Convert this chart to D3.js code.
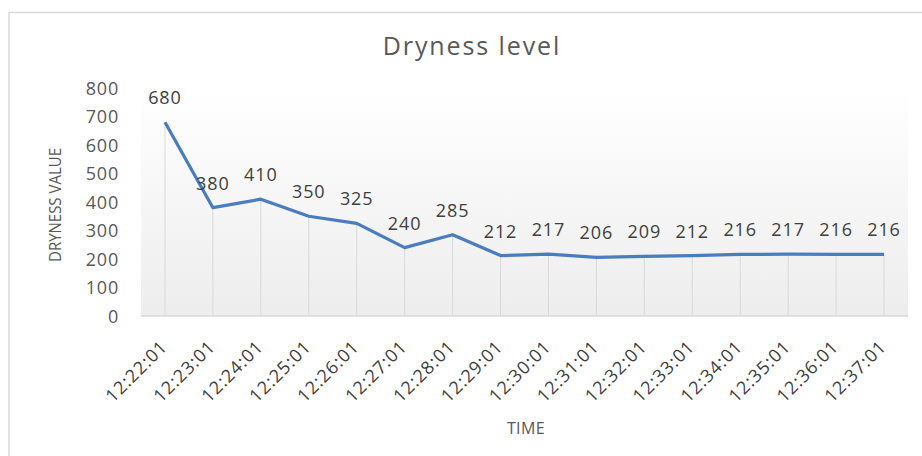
<!DOCTYPE html>
<html><head><meta charset="utf-8">
<script src="https://cdn.jsdelivr.net/npm/d3@7"></script>
<style>body{margin:0;background:#fff}svg{display:block}</style>
</head><body>
<svg id="c" width="922" height="456"></svg>
<script>
const categories = ["12:22:01","12:23:01","12:24:01","12:25:01","12:26:01","12:27:01","12:28:01","12:29:01","12:30:01","12:31:01","12:32:01","12:33:01","12:34:01","12:35:01","12:36:01","12:37:01"];
const values = [680,380,410,350,325,240,285,212,217,206,209,212,216,217,216,216];
const yTicks = [0,100,200,300,400,500,600,700,800];
const title = "Dryness level";
const xTitle = "TIME";
const yTitle = "DRYNESS VALUE";

const svg = d3.select("#c");
const font = "'Open Sans', sans-serif";
const L = 141, R = 908, T = 88, B = 316;

// outer border
svg.append("rect").attr("x",9).attr("y",12.5).attr("width",918).attr("height",460)
  .attr("fill","#fff").attr("stroke","#d9d9d9").attr("stroke-width",1.5);

const defs = svg.append("defs");
const g = defs.append("linearGradient").attr("id","bg").attr("x1",0).attr("y1",0).attr("x2",0).attr("y2",1);
g.append("stop").attr("offset","0%").attr("stop-color","#ffffff");
g.append("stop").attr("offset","100%").attr("stop-color","#ededed");

svg.append("rect").attr("x",L).attr("y",T).attr("width",R-L).attr("height",B-T).attr("fill","url(#bg)");

const x = d3.scalePoint().domain(categories).range([L,R]).padding(0.5);
const y = d3.scaleLinear().domain([0,800]).range([B,T]);

// drop lines
svg.append("g").selectAll("line").data(values).join("line")
  .attr("x1",(d,i)=>x(categories[i])).attr("x2",(d,i)=>x(categories[i]))
  .attr("y1",d=>y(d)).attr("y2",B)
  .attr("stroke","#d9d9d9").attr("stroke-width",1);

// x axis
const xa = svg.append("g").attr("transform",`translate(0,${B})`)
  .call(d3.axisBottom(x).tickSize(0).tickPadding(0));
xa.select(".domain").attr("stroke","#d9d9d9").attr("stroke-width",1.5)
  .attr("d",`M${L},0H${R}`);
xa.selectAll("text").attr("font-family",font).attr("font-size",18).attr("fill","#404040")
  .attr("letter-spacing",0.9)
  .attr("text-anchor","end").attr("dy",0)
  .attr("transform","translate(3,32) rotate(-45)");

// y axis
const ya = svg.append("g").attr("transform",`translate(${L},0)`)
  .call(d3.axisLeft(y).tickValues(yTicks).tickSize(0).tickPadding(22));
ya.select(".domain").remove();
ya.selectAll("text").attr("font-family",font).attr("font-size",18).attr("fill","#595959")
  .attr("letter-spacing",0.8).attr("dy","0.35em");

// line
svg.append("path").datum(values)
  .attr("d",d3.line().x((d,i)=>x(categories[i])).y(d=>y(d)))
  .attr("fill","none").attr("stroke","#4a7cc0").attr("stroke-width",3.2)
  .attr("stroke-linejoin","round");

// data labels
svg.append("g").selectAll("text").data(values).join("text")
  .attr("x",(d,i)=>x(categories[i])).attr("y",d=>y(d)-18)
  .attr("text-anchor","middle").attr("font-family",font).attr("font-size",18)
  .attr("letter-spacing",0.9)
  .attr("fill","#404040").text(d=>d);

// titles
svg.append("text").attr("x",472).attr("y",55).attr("text-anchor","middle")
  .attr("font-family",font).attr("font-size",25).attr("letter-spacing",1.9)
  .attr("fill","#595959").text(title);
svg.append("text").attr("x",526).attr("y",434).attr("text-anchor","middle")
  .attr("font-family",font).attr("font-size",16).attr("letter-spacing",0.4).attr("fill","#595959").text(xTitle);
svg.append("text").attr("transform","translate(61,205) rotate(-90)").attr("text-anchor","middle")
  .attr("font-family",font).attr("font-size",17).attr("fill","#595959")
  .attr("textLength",114).attr("lengthAdjust","spacingAndGlyphs").text(yTitle);
</script>
</body></html>
